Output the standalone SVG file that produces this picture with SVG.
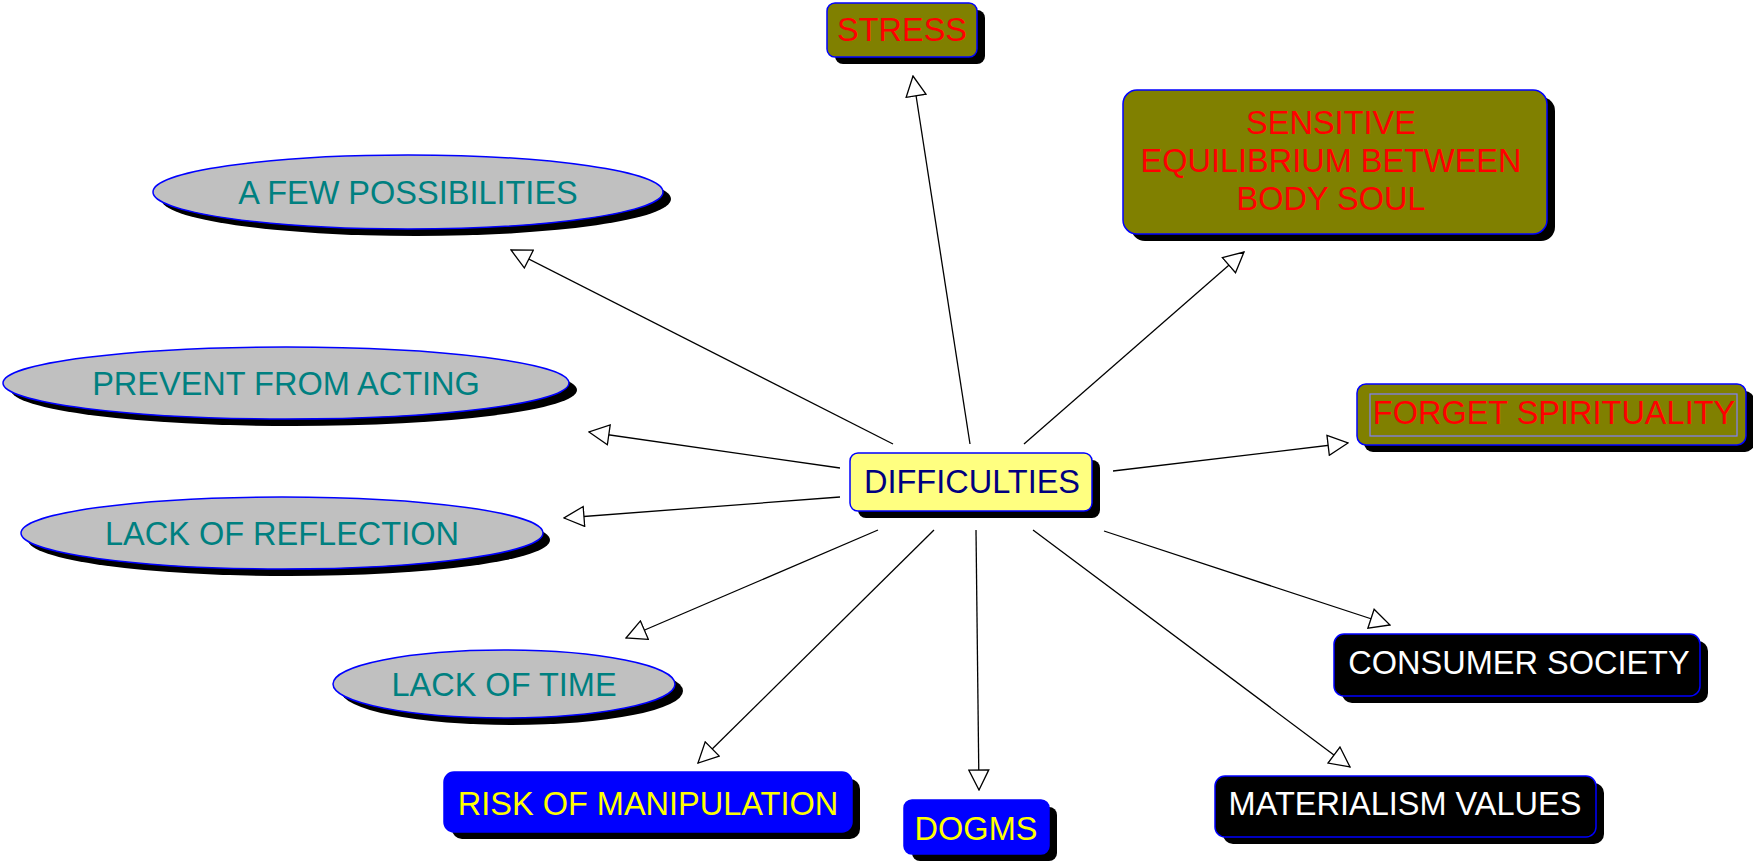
<svg xmlns="http://www.w3.org/2000/svg" width="1753" height="861" viewBox="0 0 1753 861">
<defs>
<style>
text{font-family:"Liberation Sans",Arial,sans-serif;font-size:32.5px;text-anchor:middle}
.sh{fill:#000}
.olive{fill:#808000;stroke:#0000ff;stroke-width:1.5}
.grey{fill:#c0c0c0;stroke:#0000ff;stroke-width:1.5}
.yel{fill:#ffff80;stroke:#0000ff;stroke-width:1.5}
.blue{fill:#0000ff;stroke:#0000ff;stroke-width:1.5}
.blk{fill:#000;stroke:#0000ff;stroke-width:1.5}
.red{fill:#ff0000}
.teal{fill:#008080}
.navy{fill:#000080}
.ytxt{fill:#ffff00}
.wtxt{fill:#ffffff}
.conn line{stroke:#000;stroke-width:1.3;marker-end:url(#arr)}
</style>
<marker id="arr" viewBox="0 0 22 22" markerWidth="22" markerHeight="22" refX="21" refY="11" orient="auto" markerUnits="userSpaceOnUse">
<path d="M1,1 L21,11 L1,21 Z" fill="#fff" stroke="#000" stroke-width="1.3"/>
</marker>
</defs>
<rect width="1753" height="861" fill="#fff"/>
<g class="conn" id="connectors">
<line x1="970" y1="444" x2="913" y2="76"/>
<line x1="1024" y1="444" x2="1244" y2="252"/>
<line x1="893" y1="444" x2="511" y2="250"/>
<line x1="840" y1="468" x2="589" y2="432"/>
<line x1="840" y1="497" x2="564" y2="518"/>
<line x1="878" y1="530" x2="626" y2="638"/>
<line x1="934" y1="530" x2="698" y2="763"/>
<line x1="976" y1="530" x2="979" y2="790"/>
<line x1="1033" y1="530" x2="1350" y2="767"/>
<line x1="1104" y1="531" x2="1390" y2="625"/>
<line x1="1113" y1="471" x2="1348" y2="443"/>
</g>
<g id="stress">
<rect class="sh" x="835" y="10" width="150" height="54" rx="8"/>
<rect class="olive" x="827" y="3" width="150" height="54" rx="8"/>
<text class="red" x="902" y="41">STRESS</text>
</g>
<g id="sensitive">
<rect class="sh" x="1131" y="97" width="424" height="144" rx="14"/>
<rect class="olive" x="1123" y="90" width="424" height="144" rx="14"/>
<text class="red" x="1331" y="134">SENSITIVE</text>
<text class="red" x="1331" y="172">EQUILIBRIUM BETWEEN</text>
<text class="red" x="1331" y="210">BODY SOUL</text>
</g>
<g id="forget">
<rect class="sh" x="1364" y="391" width="390" height="61" rx="9"/>
<rect class="olive" x="1357" y="384" width="389" height="61" rx="9"/>
<rect x="1370" y="394" width="367" height="42" fill="none" stroke="#8080ff" stroke-width="1.2"/>
<text class="red" x="1554" y="424">FORGET SPIRITUALITY</text>
</g>
<g id="difficulties">
<rect class="sh" x="858" y="460" width="242" height="58" rx="8"/>
<rect class="yel" x="850" y="453" width="242" height="58" rx="8"/>
<text class="navy" x="972" y="493">DIFFICULTIES</text>
</g>
<g id="few">
<ellipse class="sh" cx="416" cy="199" rx="255" ry="37"/>
<ellipse class="grey" cx="408" cy="192" rx="255" ry="37"/>
<text class="teal" x="408" y="204">A FEW POSSIBILITIES</text>
</g>
<g id="prevent">
<ellipse class="sh" cx="294" cy="390" rx="283" ry="36"/>
<ellipse class="grey" cx="286" cy="383" rx="283" ry="36"/>
<text class="teal" x="286" y="395">PREVENT FROM ACTING</text>
</g>
<g id="reflection">
<ellipse class="sh" cx="289" cy="540" rx="261" ry="36"/>
<ellipse class="grey" cx="282" cy="533" rx="261" ry="36"/>
<text class="teal" x="282" y="545">LACK OF REFLECTION</text>
</g>
<g id="time">
<ellipse class="sh" cx="512" cy="691" rx="171" ry="34"/>
<ellipse class="grey" cx="504" cy="684" rx="171" ry="34"/>
<text class="teal" x="504" y="696">LACK OF TIME</text>
</g>
<g id="risk">
<rect class="sh" x="452" y="779" width="408" height="60" rx="10"/>
<rect class="blue" x="444" y="772" width="408" height="60" rx="10"/>
<text class="ytxt" x="648" y="815">RISK OF MANIPULATION</text>
</g>
<g id="dogms">
<rect class="sh" x="912" y="807" width="145" height="54" rx="8"/>
<rect class="blue" x="904" y="800" width="145" height="54" rx="8"/>
<text class="ytxt" x="976" y="840">DOGMS</text>
</g>
<g id="consumer">
<rect class="sh" x="1342" y="641" width="366" height="62" rx="10"/>
<rect class="blk" x="1334" y="634" width="366" height="62" rx="10"/>
<text class="wtxt" x="1519" y="674">CONSUMER SOCIETY</text>
</g>
<g id="materialism">
<rect class="sh" x="1223" y="783" width="381" height="61" rx="10"/>
<rect class="blk" x="1215" y="776" width="381" height="61" rx="10"/>
<text class="wtxt" x="1405" y="815">MATERIALISM VALUES</text>
</g>
</svg>
